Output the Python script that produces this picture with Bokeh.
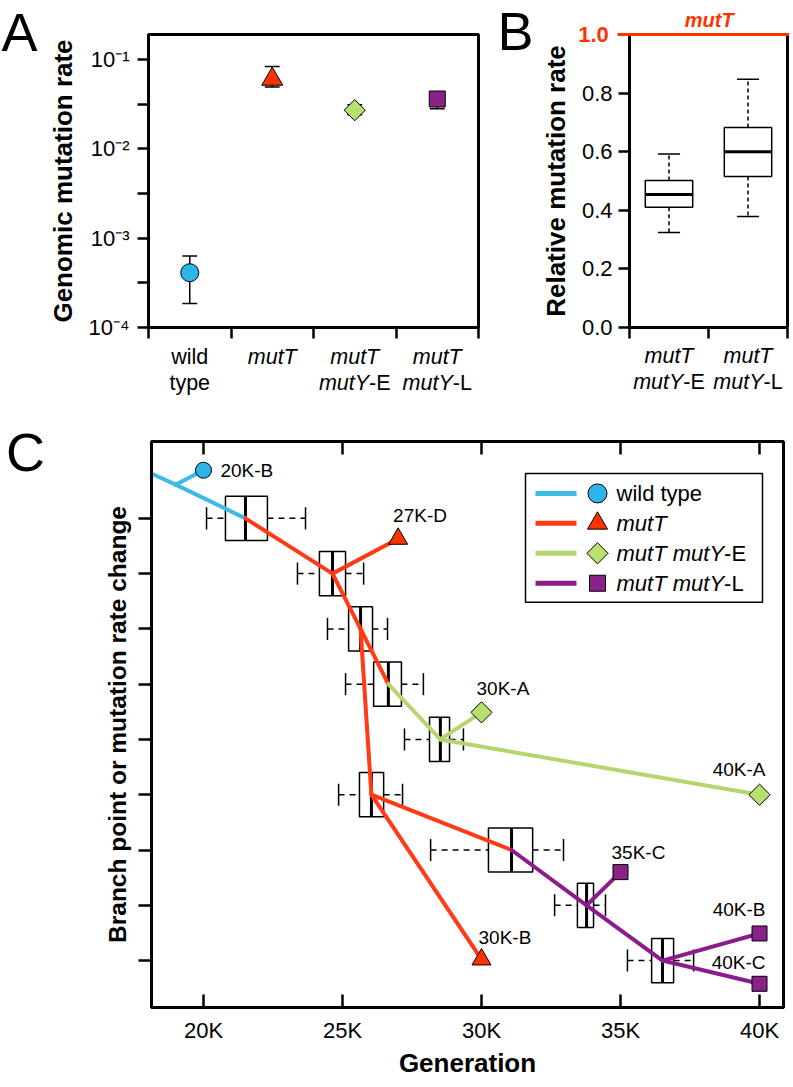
import math
from bokeh.plotting import figure
from bokeh.layouts import column, row
from bokeh.models import (Range1d, FixedTicker, LinearAxis, PrintfTickFormatter, CustomJSTickFormatter)
from bokeh.core.properties import value
from bokeh.embed import file_html
from bokeh.resources import INLINE

FONT = "Liberation Sans"

# ---------------- data ----------------
# Panel A: genomic mutation rate per genotype
a_groups = ["wild type", "mutT", "mutT mutY-E", "mutT mutY-L"]
a_rate = [4.1e-4, 0.060, 0.027, 0.036]
a_err_lo = [1.85e-4, 0.049, 0.024, 0.028]
a_err_hi = [6.3e-4, 0.083, 0.031, 0.040]
a_major_exp = [-4, -3, -2, -1]
a_minor_exp = [-3.5, -2.5, -1.5]
a_tick_labels = ["10\u207b\u2074", "10\u207b\u00b3", "10\u207b\u00b2", "10\u207b\u00b9"]

# Panel B: relative mutation rate (box plots)
b_groups = ["mutT mutY-E", "mutT mutY-L"]
b_whislo = [0.324, 0.379]
b_q1 = [0.410, 0.515]
b_median = [0.454, 0.600]
b_q3 = [0.502, 0.683]
b_whishi = [0.592, 0.847]
b_reference = 1.0
b_ticks = [0.0, 0.2, 0.4, 0.6, 0.8]

# Panel C: branch points (box plots of generation) and clones
c_level = [9, 8, 7, 6, 5, 4, 3, 2, 1]
c_median = [21510, 24640, 25650, 26650, 28520, 26040, 31080, 33780, 36510]
c_box_lo = [20790, 24170, 25220, 26120, 28130, 25610, 30250, 33450, 36120]
c_box_hi = [22300, 25110, 26080, 27120, 28850, 26480, 31840, 34030, 36910]
c_whisk_lo = [20110, 23380, 24460, 25110, 27230, 24860, 28170, 32630, 35250]
c_whisk_hi = [23670, 25760, 26620, 27910, 29350, 27160, 32950, 34460, 37630]
c_anc_names = ["anc0", "anc1"]
c_anc_gen = [18000, 19000]
c_anc_level = [9.84, 9.61]
c_clones = ["20K-B", "27K-D", "30K-A", "40K-A", "30K-B", "35K-C", "40K-B", "40K-C"]
c_clone_gen = [20000, 27000, 30000, 40000, 30000, 35000, 40000, 40000]
c_clone_level = [9.87, 8.63, 5.49, 4.0, 1.02, 2.6, 1.49, 0.58]
c_clone_type = ["wild type", "mutT", "mutT mutY-E", "mutT mutY-E",
                "mutT", "mutT mutY-L", "mutT mutY-L", "mutT mutY-L"]
c_edges = [("anc0", "anc1", "wild type"), ("anc1", "b9", "wild type"), ("anc1", "20K-B", "wild type"),
           ("b9", "b8", "mutT"), ("b8", "27K-D", "mutT"), ("b8", "b7", "mutT"),
           ("b7", "b6", "mutT"), ("b7", "b4", "mutT"), ("b4", "b3", "mutT"), ("b4", "30K-B", "mutT"),
           ("b6", "b5", "mutT mutY-E"), ("b5", "30K-A", "mutT mutY-E"), ("b5", "40K-A", "mutT mutY-E"),
           ("b3", "b2", "mutT mutY-L"), ("b2", "35K-C", "mutT mutY-L"), ("b2", "b1", "mutT mutY-L"),
           ("b1", "40K-B", "mutT mutY-L"), ("b1", "40K-C", "mutT mutY-L")]
c_xticks = [20000, 25000, 30000, 35000, 40000]
c_xtick_labels = ["20K", "25K", "30K", "35K", "40K"]

# ---------------- styles ----------------
RED = "#ff3300"
STYLE = {
    "wild type":   dict(line="#3fb9e6", fill="#2bb5e8", marker="circle", angle=0.0),
    "mutT":        dict(line="#ff3a14", fill=RED, marker="triangle", angle=0.0),
    "mutT mutY-E": dict(line="#b6d56f", fill="#b8e06c", marker="square", angle=math.pi / 4),
    "mutT mutY-L": dict(line="#8b1c8c", fill="#8a2289", marker="square", angle=0.0),
}
A_SIZE = {"circle": 18, "triangle": 21, "square": 16}
C_SIZE = {"circle": 16, "triangle": 19, "square": 15}
DIAMOND_SIZE_A, DIAMOND_SIZE_C = 15, 15
LABEL_PIECES = {
    "wild type": [[("wild", "normal")], [("type", "normal")]],
    "mutT": [[("mutT", "italic")]],
    "mutT mutY-E": [[("mutT", "italic")], [("mutY", "italic"), ("-E", "normal")]],
    "mutT mutY-L": [[("mutT", "italic")], [("mutY", "italic"), ("-L", "normal")]],
}
LEGEND_PIECES = {
    "wild type": [("wild type", "normal")],
    "mutT": [("mutT", "italic")],
    "mutT mutY-E": [("mutT mutY", "italic"), ("-E", "normal")],
    "mutT mutY-L": [("mutT mutY", "italic"), ("-L", "normal")],
}
C_LABEL_STYLE = {"20K-B": (17, 0, "left"), "27K-D": (-5, 23, "left"), "30K-A": (-5, 24, "left"),
                 "40K-A": (6, 25, "right"), "30K-B": (-3, 22, "left"), "35K-C": (-9, 20, "left"),
                 "40K-B": (6, 24, "right"), "40K-C": (6, 21, "right")}

ARIAL = {' ': 278, '-': 333, 'E': 667, 'L': 556, 'T': 611, 'Y': 667, 'd': 556, 'e': 556, 'i': 222,
         'l': 222, 'm': 833, 'p': 556, 't': 278, 'u': 556, 'w': 722, 'y': 500}


def text_w(s, size):
    return sum(ARIAL.get(c, 556) for c in s) / 1000.0 * size


# page-pixel geometry of the frames (layout only)
A_L, A_R, A_T, A_B = 148, 478, 33, 328
A_LOG_TOP = -0.722
B_FIG_X = 494
B_L, B_R, B_T, B_B = 629, 787, 34, 327
C_FIG_Y = 420
C_L, C_R, C_T, C_B = 151, 783, 441, 1008
C_X0, C_X1 = 18130, 40863
C_Y0, C_Y1 = 0.151, 10.39


def ax_(px): return (px - A_L) / (A_R - A_L) * len(a_groups)
def ay_(py): return 10 ** (A_LOG_TOP + (py - A_T) / (A_B - A_T) * (-4 - A_LOG_TOP))
def bx_(px): return (px - B_L) / (B_R - B_L) * len(b_groups)
def by_(py): return (B_B - py) / (B_B - B_T) * b_reference
def cx_(px): return C_X0 + (px - C_L) / (C_R - C_L) * (C_X1 - C_X0)
def cy_(py): return C_Y1 - (py - C_T) / (C_B - C_T) * (C_Y1 - C_Y0)


C_PX_PER_LEVEL = (C_B - C_T) / (C_Y1 - C_Y0)
BLANK = "return ''"


def style_axis(axis, label_size="26px"):
    axis.axis_line_width = 3
    axis.axis_line_color = "black"
    axis.major_tick_line_width = 2.5
    axis.major_tick_line_color = "black"
    axis.minor_tick_line_color = None
    axis.major_label_text_font = FONT
    axis.major_label_text_font_size = "22px"
    axis.major_label_text_color = "black"
    axis.axis_label_text_font = FONT
    axis.axis_label_text_font_style = "bold"
    axis.axis_label_text_font_size = label_size
    axis.axis_label_text_color = "black"


def put_text(p, x, y, pieces, size, color="black", align="center", weight=""):
    """Draw a line of text made of pieces with their own font style (e.g. italic gene names)."""
    total = sum(text_w(t, size) for t, _ in pieces)
    off = -total / 2 if align == "center" else 0
    for t, st in pieces:
        style = (weight + " " + st).strip() if st != "normal" else (weight or "normal")
        p.text(x=[x], y=[y], text=[t], x_offset=off, text_align="left", text_baseline="middle",
               text_font=value(FONT), text_font_size=f"{size}px", text_font_style=style,
               text_color=color, level="overlay")
        off += text_w(t, size)


def panel_letter(p, x, y, letter):
    p.text(x=[x], y=[y], text=[letter], text_align="center", text_baseline="middle",
           text_font=value(FONT), text_font_size="54px", text_color="black", level="overlay")


def base_fig(w, h, xr, yr, borders, **kw):
    p = figure(width=w, height=h, x_range=xr, y_range=yr, output_backend="svg",
               toolbar_location=None, title=None, min_border_left=borders[0],
               min_border_right=borders[1], min_border_top=borders[2],
               min_border_bottom=borders[3], **kw)
    p.grid.visible = False
    p.background_fill_color = "white"
    p.border_fill_color = "white"
    return p


# ---------------- Panel A ----------------
pA = base_fig(B_FIG_X, C_FIG_Y, Range1d(0, len(a_groups)), Range1d(1e-4, 10 ** A_LOG_TOP),
              (A_L, B_FIG_X - A_R, A_T, C_FIG_Y - A_B), y_axis_type="log")
pA.outline_line_color = "black"
pA.outline_line_width = 3
for a in pA.axis:
    style_axis(a)
pA.xaxis.ticker = FixedTicker(ticks=list(range(len(a_groups) + 1)))
pA.xaxis.formatter = CustomJSTickFormatter(code=BLANK)
pA.xaxis.major_tick_out = 11
pA.xaxis.major_tick_in = 0
pA.yaxis.ticker = FixedTicker(ticks=[10.0 ** e for e in a_major_exp],
                              minor_ticks=[10.0 ** e for e in a_minor_exp])
pA.yaxis.major_label_overrides = {10.0 ** e: lab for e, lab in zip(a_major_exp, a_tick_labels)}
pA.yaxis.major_tick_out = 11
pA.yaxis.major_tick_in = 0
pA.yaxis.minor_tick_line_color = "black"
pA.yaxis.minor_tick_line_width = 2.5
pA.yaxis.minor_tick_out = 11
pA.yaxis.minor_tick_in = 0
pA.yaxis.major_label_standoff = 8
pA.yaxis.axis_label = "Genomic mutation rate"
pA.yaxis.axis_label_standoff = 8

a_x = [i + 0.5 for i in range(len(a_groups))]
pA.segment(x0=a_x, x1=a_x, y0=a_err_lo, y1=a_err_hi, line_color="black", line_width=1.5)
pA.segment(x0=[x - 0.09 for x in a_x], x1=[x + 0.09 for x in a_x], y0=a_err_lo, y1=a_err_lo,
           line_color="black", line_width=1.5)
pA.segment(x0=[x - 0.09 for x in a_x], x1=[x + 0.09 for x in a_x], y0=a_err_hi, y1=a_err_hi,
           line_color="black", line_width=1.5)
for i, g in enumerate(a_groups):
    st = STYLE[g]
    size = DIAMOND_SIZE_A if st["angle"] else A_SIZE[st["marker"]]
    pA.scatter(x=[a_x[i]], y=[a_rate[i]], marker=st["marker"], size=size, angle=st["angle"],
               fill_color=st["fill"], line_color="black", line_width=1)
    for j, pieces in enumerate(LABEL_PIECES[g]):
        put_text(pA, a_x[i], ay_(358 + 26 * j), pieces, 21.5)
panel_letter(pA, ax_(19), ay_(30), "A")

# ---------------- Panel B ----------------
pB = base_fig(790 - B_FIG_X, C_FIG_Y, Range1d(0, len(b_groups)), Range1d(0, b_reference),
              (B_L - B_FIG_X, 790 - B_R, B_T, C_FIG_Y - B_B))
pB.outline_line_color = None
for a in pB.axis:
    style_axis(a)
pB.xaxis.ticker = FixedTicker(ticks=list(range(len(b_groups) + 1)))
pB.xaxis.formatter = CustomJSTickFormatter(code=BLANK)
pB.xaxis.major_tick_out = 11
pB.xaxis.major_tick_in = 0
pB.yaxis.ticker = FixedTicker(ticks=b_ticks)
pB.yaxis.formatter = PrintfTickFormatter(format="%.1f")
pB.yaxis.major_tick_out = 11
pB.yaxis.major_tick_in = 0
pB.yaxis.major_label_standoff = 6
pB.yaxis.axis_label = "Relative mutation rate"
pB.yaxis.axis_label_standoff = 8
right_axis = LinearAxis(ticker=FixedTicker(ticks=[]), formatter=CustomJSTickFormatter(code=BLANK))
style_axis(right_axis)
pB.add_layout(right_axis, "right")

b_x = [i + 0.5 for i in range(len(b_groups))]
BW, CW = 0.3, 0.14
pB.segment(x0=b_x, x1=b_x, y0=b_q3, y1=b_whishi, line_color="black", line_width=1.5, line_dash="4 3")
pB.segment(x0=b_x, x1=b_x, y0=b_q1, y1=b_whislo, line_color="black", line_width=1.5, line_dash="4 3")
pB.segment(x0=[x - CW for x in b_x], x1=[x + CW for x in b_x], y0=b_whishi, y1=b_whishi,
           line_color="black", line_width=1.5)
pB.segment(x0=[x - CW for x in b_x], x1=[x + CW for x in b_x], y0=b_whislo, y1=b_whislo,
           line_color="black", line_width=1.5)
pB.quad(left=[x - BW for x in b_x], right=[x + BW for x in b_x], bottom=b_q1, top=b_q3,
        fill_color="white", line_color="black", line_width=1.5)
pB.segment(x0=[x - BW for x in b_x], x1=[x + BW for x in b_x], y0=b_median, y1=b_median,
           line_color="black", line_width=3)
# reference level of mutT (= 1.0), drawn as the red top edge running into the tick area
pB.segment(x0=[bx_(617)], x1=[len(b_groups) + bx_(B_R + 1.5) - bx_(B_R)], y0=[b_reference],
           y1=[b_reference], line_color=RED, line_width=3, level="overlay")
put_text(pB, bx_(596), b_reference, [("1.0", "bold")], 22, color=RED)
put_text(pB, bx_(707), by_(19), [("mutT", "italic")], 20, color=RED, weight="bold")
for i, g in enumerate(b_groups):
    for j, pieces in enumerate(LABEL_PIECES[g]):
        put_text(pB, b_x[i], by_(355 + 26 * j), pieces, 21.5)
panel_letter(pB, bx_(515), by_(30), "B")

# ---------------- Panel C ----------------
pC = base_fig(790, 1080 - C_FIG_Y, Range1d(C_X0, C_X1), Range1d(C_Y0, C_Y1),
              (C_L, 790 - C_R, C_T - C_FIG_Y, 1080 - C_B))
pC.outline_line_color = "black"
pC.outline_line_width = 3
for a in pC.axis:
    style_axis(a)
pC.xaxis.ticker = FixedTicker(ticks=c_xticks)
pC.xaxis.major_label_overrides = dict(zip(c_xticks, c_xtick_labels))
pC.xaxis.major_tick_in = 13
pC.xaxis.major_tick_out = 0
pC.xaxis.major_label_standoff = 10
pC.xaxis.axis_label = "Generation"
pC.xaxis.axis_label_standoff = 2
pC.yaxis.ticker = FixedTicker(ticks=c_level)
pC.yaxis.formatter = CustomJSTickFormatter(code=BLANK)
pC.yaxis.major_tick_out = 13
pC.yaxis.major_tick_in = 0
pC.yaxis.axis_label = "Branch point or mutation rate change"
pC.yaxis.axis_label_text_font_size = "24.5px"
pC.yaxis.axis_label_standoff = 8
top_axis = LinearAxis(ticker=FixedTicker(ticks=c_xticks), formatter=CustomJSTickFormatter(code=BLANK))
style_axis(top_axis)
top_axis.major_tick_in = 13
top_axis.major_tick_out = 0
pC.add_layout(top_axis, "above")

HB, HC = 0.4, 0.2
lv = c_level
pC.segment(x0=c_whisk_lo, x1=c_box_lo, y0=lv, y1=lv, line_color="black", line_width=1.5, line_dash="6 5")
pC.segment(x0=c_box_hi, x1=c_whisk_hi, y0=lv, y1=lv, line_color="black", line_width=1.5, line_dash="6 5")
pC.segment(x0=c_whisk_lo, x1=c_whisk_lo, y0=[v - HC for v in lv], y1=[v + HC for v in lv],
           line_color="black", line_width=1.5)
pC.segment(x0=c_whisk_hi, x1=c_whisk_hi, y0=[v - HC for v in lv], y1=[v + HC for v in lv],
           line_color="black", line_width=1.5)
pC.quad(left=c_box_lo, right=c_box_hi, bottom=[v - HB for v in lv], top=[v + HB for v in lv],
        fill_color="white", line_color="black", line_width=1.5)
pC.segment(x0=c_median, x1=c_median, y0=[v - HB for v in lv], y1=[v + HB for v in lv],
           line_color="black", line_width=3)

nodes = {}
for lvl, g in zip(c_level, c_median):
    nodes[f"b{lvl}"] = (g, lvl)
for n, g, l in zip(c_anc_names, c_anc_gen, c_anc_level):
    nodes[n] = (g, l)
for n, g, l in zip(c_clones, c_clone_gen, c_clone_level):
    nodes[n] = (g, l)

for t in STYLE:
    es = [e for e in c_edges if e[2] == t]
    pC.segment(x0=[nodes[e[0]][0] for e in es], x1=[nodes[e[1]][0] for e in es],
               y0=[nodes[e[0]][1] for e in es], y1=[nodes[e[1]][1] for e in es],
               line_color=STYLE[t]["line"], line_width=4, line_cap="round")

for t in STYLE:
    idx = [i for i, ct in enumerate(c_clone_type) if ct == t]
    st = STYLE[t]
    size = DIAMOND_SIZE_C if st["angle"] else C_SIZE[st["marker"]]
    pC.scatter(x=[c_clone_gen[i] for i in idx], y=[c_clone_level[i] for i in idx],
               marker=st["marker"], size=size, angle=st["angle"], fill_color=st["fill"],
               line_color="black", line_width=1)

for align in ("left", "right"):
    idx = [i for i, n in enumerate(c_clones) if C_LABEL_STYLE[n][2] == align]
    pC.text(x=[c_clone_gen[i] for i in idx],
            y=[c_clone_level[i] + C_LABEL_STYLE[c_clones[i]][1] / C_PX_PER_LEVEL for i in idx],
            text=[c_clones[i] for i in idx],
            x_offset=[C_LABEL_STYLE[c_clones[i]][0] for i in idx],
            text_align=align, text_baseline="middle", text_font=value(FONT),
            text_font_size="19px", text_color="black")

# legend (drawn by hand so that labels can mix italic and roman text)
pC.quad(left=[cx_(525)], right=[cx_(762)], bottom=[cy_(602)], top=[cy_(473)],
        fill_color="white", line_color="black", line_width=1.5)
for k, t in enumerate(STYLE):
    ypx = 493 + 30 * k
    st = STYLE[t]
    pC.segment(x0=[cx_(535)], x1=[cx_(576)], y0=[cy_(ypx)], y1=[cy_(ypx)],
               line_color=st["line"], line_width=5)
    size = 15 if st["angle"] else {"circle": 19, "triangle": 20, "square": 16}[st["marker"]]
    pC.scatter(x=[cx_(597)], y=[cy_(ypx)], marker=st["marker"], size=size, angle=st["angle"],
               fill_color=st["fill"], line_color="black", line_width=1)
    put_text(pC, cx_(616), cy_(ypx), LEGEND_PIECES[t], 22, align="left")

panel_letter(pC, cx_(25), cy_(452), "C")

layout = column(row(pA, pB), pC)
open("out.html", "w").write(file_html(layout, INLINE))
